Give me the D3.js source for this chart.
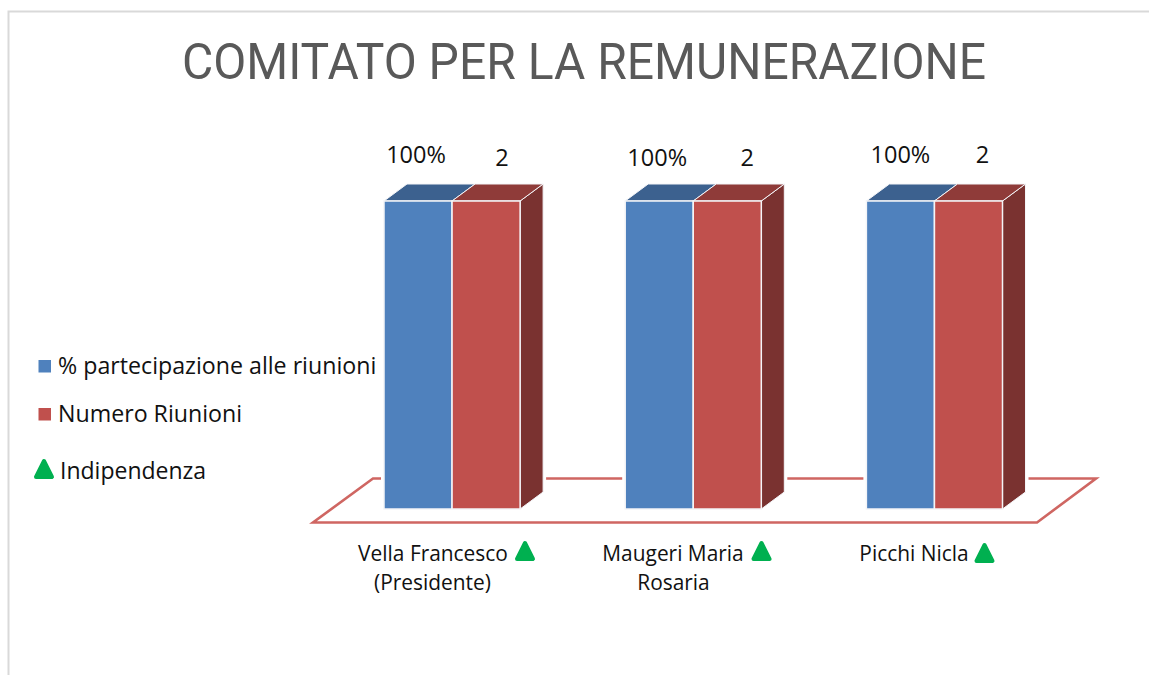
<!DOCTYPE html>
<html><head><meta charset="utf-8">
<style>html,body{margin:0;padding:0;background:#fff}svg{display:block}</style>
<script src="https://cdn.jsdelivr.net/npm/d3@7/dist/d3.min.js"></script>
</head><body><svg id="c" width="1149" height="675"></svg>
<script>
const title = "COMITATO PER LA REMUNERAZIONE";
const categories = ["Vella Francesco", "Maugeri Maria", "Picchi Nicla"];
const categorySecondLines = ["(Presidente)", "Rosaria", ""];
const seriesNames = ["% partecipazione alle riunioni", "Numero Riunioni"];
const partecipazione = [1, 1, 1];
const riunioni = [2, 2, 2];
const independentLabel = "Indipendenza";

const colors = [
  {front:"#4f81bd", top:"#3c618f", side:"#2f4d72"},
  {front:"#c0504d", top:"#8f3b39", side:"#7a3230"}
];
const svg = d3.select("#c");
const font = "'Open Sans', sans-serif";

// frame
svg.append("path").attr("d","M1149,11.5H8.5V675").attr("fill","none").attr("stroke","#d9d9d9").attr("stroke-width",2);

svg.append("text").text(title).attr("x",182).attr("y",79)
  .attr("font-family","Roboto, sans-serif").attr("font-weight",400).attr("font-size",50.5)
  .attr("fill","#595959").attr("textLength",804).attr("lengthAdjust","spacingAndGlyphs");

const x0 = d3.scaleBand().domain(categories).range([384,1002.5]).paddingInner(0.4357).paddingOuter(0);
const x1 = d3.scaleBand().domain(seriesNames).range([0,x0.bandwidth()]);
const scales = [
  d3.scaleLinear().domain([0,1]).range([509,201]),
  d3.scaleLinear().domain([0,2]).range([509,201])
];
const dx = 23, dy = -17;

// floor
const floorLine = d3.line();
svg.append("path").attr("d",floorLine([[313,522.5],[1037,522.5],[1096,478.5],[373,478.5]])+"Z")
  .attr("fill","none").attr("stroke","#cf6662").attr("stroke-width",2.6);

const bars = [];
categories.forEach((c,i)=>{
  [partecipazione,riunioni].forEach((vals,s)=>{
    bars.push({c,i,s,v:vals[i]});
  });
});
const geom = d => {
  const x = x0(d.c)+x1(seriesNames[d.s]), w = x1.bandwidth();
  return {x,w,yT:scales[d.s](d.v),yB:scales[d.s](0)};
};
// halo cutting the floor line behind each column
categories.forEach((c,i)=>{
  const g = geom(bars[i*2]), g2 = geom(bars[i*2+1]);
  const r = g2.x+g2.w;
  svg.append("path").attr("d",floorLine([[g.x,g.yT],[g.x+dx,g.yT+dy],[r+dx,g.yT+dy],[r+dx,g.yB+dy],[r,g.yB],[g.x,g.yB]])+"Z")
    .attr("fill","#fff").attr("stroke","#fff").attr("stroke-width",6);
});
const gBars = svg.append("g").selectAll("g").data(bars).join("g");
const edge = "#f4f5f8";
gBars.filter(d=>d.s===1).append("path").attr("fill",d=>colors[d.s].side).attr("stroke",edge).attr("stroke-width",1)
  .attr("d",d=>{const g=geom(d);return floorLine([[g.x+g.w,g.yT],[g.x+g.w+dx,g.yT+dy],[g.x+g.w+dx,g.yB+dy],[g.x+g.w,g.yB]])+"Z";});
gBars.append("path").attr("fill",d=>colors[d.s].top).attr("stroke",edge).attr("stroke-width",1)
  .attr("d",d=>{const g=geom(d);return floorLine([[g.x,g.yT],[g.x+dx,g.yT+dy],[g.x+g.w+dx,g.yT+dy],[g.x+g.w,g.yT]])+"Z";});
gBars.append("rect").attr("x",d=>geom(d).x).attr("y",d=>geom(d).yT)
  .attr("width",d=>geom(d).w).attr("height",d=>geom(d).yB-geom(d).yT)
  .attr("fill",d=>colors[d.s].front).attr("stroke",edge).attr("stroke-width",1.5);

// data labels
const labelFmt = [d3.format(".0%"), d3.format("d")];
const labelNudge = [[[-2,163],[-2,166]],[[-2,166],[2,166]],[[0,163],[-4,163]]];
svg.append("g").selectAll("text").data(bars).join("text")
  .text(d=>labelFmt[d.s](d.v))
  .attr("x",d=>geom(d).x+geom(d).w/2+18*(d.s?1:0)+labelNudge[d.i][d.s][0])
  .attr("y",d=>labelNudge[d.i][d.s][1])
  .attr("text-anchor","middle").attr("font-family",font).attr("font-size",23.5).attr("fill","#111");

// green marker
const tri = (cx,top,w,h)=>floorLine([[cx,top],[cx+w/2,top+h],[cx-w/2,top+h]])+"Z";
const marker = (cx,top)=>svg.append("path").attr("d",tri(cx,top+2,16,16))
  .attr("fill","#00b050").attr("stroke","#00b050").attr("stroke-width",4).attr("stroke-linejoin","round");

// legend
seriesNames.forEach((n,i)=>{
  const y = [360,408][i];
  svg.append("rect").attr("x",38.5).attr("y",y).attr("width",12.5).attr("height",12.5).attr("fill",colors[i].front);
  svg.append("text").text(n).attr("x",58).attr("y",y+13.5).attr("font-family",font).attr("font-size",23.2).attr("fill","#111");
});
marker(44,459);
svg.append("text").text(independentLabel).attr("x",60).attr("y",478.5).attr("font-family",font).attr("font-size",23).attr("fill","#111");

// category labels
const lab = [{a:433,b:432.5,t:525},{a:673,b:673.5,t:761.5},{a:914,b:914,t:984.5}];
const markerTop = [541,541,543];
categories.forEach((c,i)=>{
  const sz=20.9;
  svg.append("text").text(c).attr("x",lab[i].a).attr("y",561).attr("text-anchor","middle").attr("font-family",font).attr("font-size",sz).attr("fill","#111");
  if(categorySecondLines[i]) svg.append("text").text(categorySecondLines[i]).attr("x",lab[i].b).attr("y",590).attr("text-anchor","middle").attr("font-family",font).attr("font-size",sz).attr("fill","#111");
  marker(lab[i].t,markerTop[i]);
});
</script></body></html>
